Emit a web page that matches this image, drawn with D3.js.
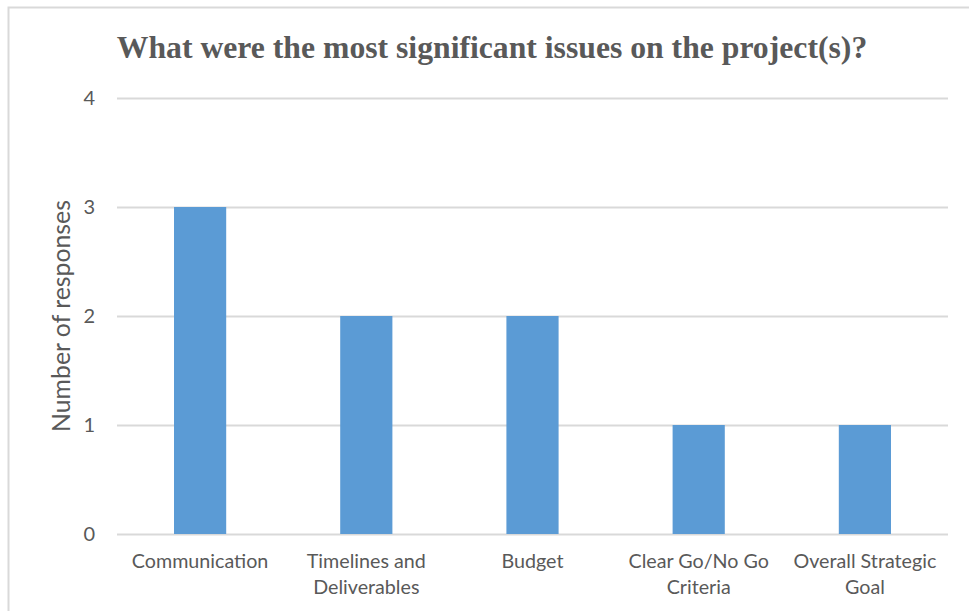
<!DOCTYPE html>
<html>
<head>
<meta charset="utf-8">
<script src="https://cdn.jsdelivr.net/npm/d3@7"></script>
<style>
  html, body { margin: 0; padding: 0; background: #fff; }
  svg { display: block; }
</style>
</head>
<body>
<svg id="chart" width="969" height="611"></svg>
<script>
// Survey responses per issue
const categories = [
  ["Communication"],
  ["Timelines and", "Deliverables"],
  ["Budget"],
  ["Clear Go/No Go", "Criteria"],
  ["Overall Strategic", "Goal"]
];
const responses = [3, 2, 2, 1, 1];
const yTicks = [0, 1, 2, 3, 4];

const title = "What were the most significant issues on the project(s)?";
const yTitle = "Number of responses";

const svg = d3.select("#chart");
const W = 969, H = 611;
const margin = { left: 117, right: 21, top: 98, bottom: 77 };

const textColor = "#595959";
const gridColor = "#d9d9d9";
const barColor = "#5b9bd5";
const labelFont = "Lato, 'Open Sans', 'Liberation Sans', sans-serif";

svg.append("rect").attr("width", W).attr("height", H).attr("fill", "#fff");

// chart frame
svg.append("rect")
  .attr("x", 8.5).attr("y", 7.5)
  .attr("width", W + 20).attr("height", H + 20)
  .attr("fill", "none").attr("stroke", gridColor).attr("stroke-width", 2);

const x = d3.scaleBand()
  .domain(d3.range(categories.length))
  .range([margin.left, W - margin.right])
  .paddingInner(0.686).paddingOuter(0.343);

const y = d3.scaleLinear()
  .domain([0, 4])
  .range([H - margin.bottom, margin.top]);

// gridlines
const gy = svg.append("g")
  .attr("transform", `translate(${margin.left},0)`)
  .call(d3.axisLeft(y).tickValues(yTicks).tickSize(-(W - margin.right - margin.left)).tickFormat(""));
gy.select(".domain").remove();
gy.selectAll(".tick line").attr("stroke", gridColor).attr("stroke-width", 2);

// y tick labels
const yl = svg.append("g")
  .attr("transform", `translate(${margin.left},0)`)
  .call(d3.axisLeft(y).tickValues(yTicks).tickSize(0).tickPadding(22).tickFormat(d3.format("d")));
yl.select(".domain").remove();
yl.selectAll("text")
  .attr("fill", textColor)
  .style("font-family", labelFont)
  .style("font-size", "20px");

// bars
svg.append("g").selectAll("rect")
  .data(responses)
  .join("rect")
  .attr("x", (d, i) => x(i))
  .attr("width", x.bandwidth())
  .attr("y", d => y(d))
  .attr("height", d => y(0) - y(d))
  .attr("fill", barColor);

// category labels
const xl = svg.append("g")
  .attr("transform", `translate(0,${H - margin.bottom})`)
  .call(d3.axisBottom(x).tickSize(0).tickFormat(""));
xl.select(".domain").remove();
xl.selectAll(".tick").each(function(i) {
  const t = d3.select(this).append("text")
    .attr("text-anchor", "middle")
    .attr("fill", textColor)
    .style("font-family", labelFont)
    .style("font-size", "19.7px");
  categories[i].forEach((line, k) => {
    t.append("tspan").attr("x", 0).attr("y", 34 + k * 26).text(line);
  });
});

// y axis title
svg.append("text")
  .attr("transform", `translate(70,${(margin.top + H - margin.bottom) / 2}) rotate(-90)`)
  .attr("text-anchor", "middle")
  .attr("fill", textColor)
  .style("font-family", labelFont)
  .style("font-size", "24.8px")
  .text(yTitle);

// chart title
svg.append("text")
  .attr("x", 492).attr("y", 58)
  .attr("text-anchor", "middle")
  .attr("fill", textColor)
  .style("font-family", "'Liberation Serif', 'Times New Roman', serif")
  .style("font-weight", "bold")
  .style("font-size", "31.7px")
  .text(title);
</script>
</body>
</html>
